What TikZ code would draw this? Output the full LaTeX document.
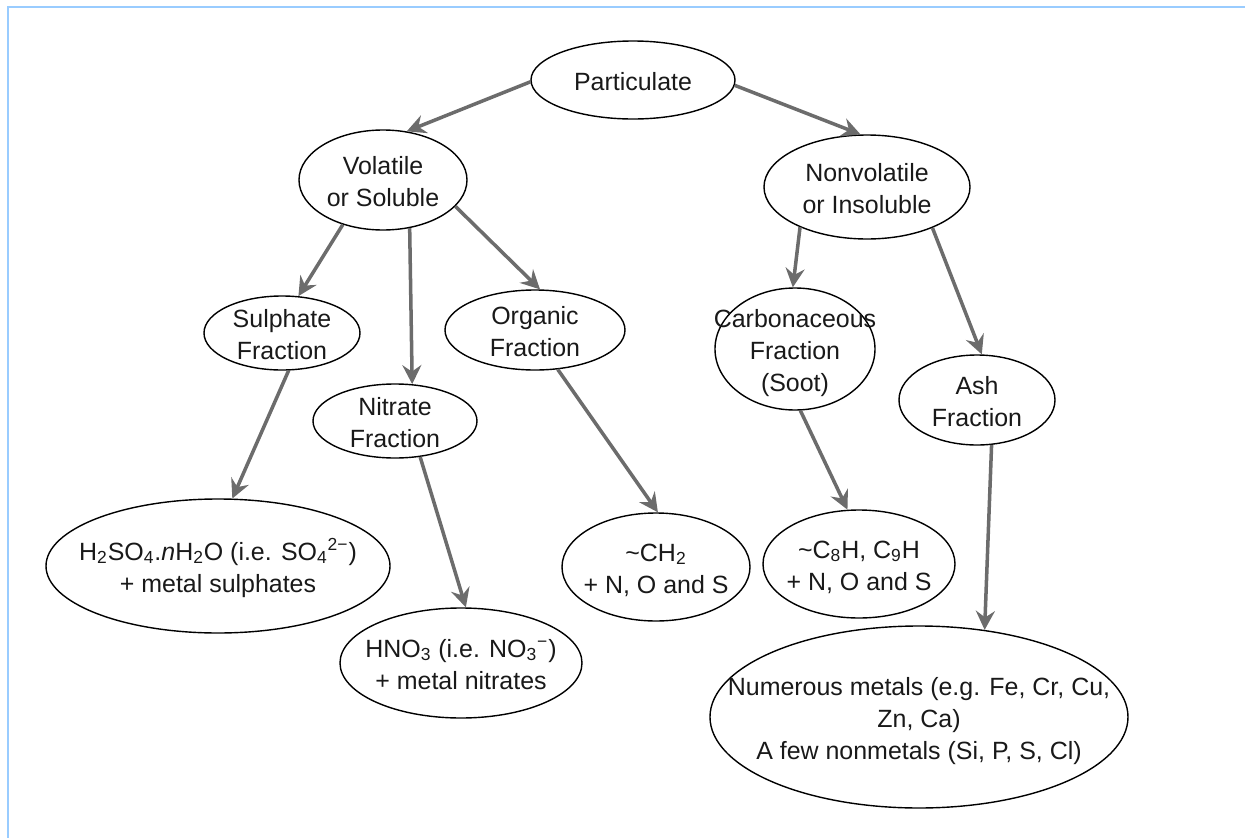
\documentclass[tikz,border=0pt]{standalone}
\usepackage{fontspec}
\setmainfont{Liberation Sans}
\usetikzlibrary{arrows.meta,shapes.geometric}
\definecolor{framebl}{RGB}{153,204,255}
\definecolor{arrgray}{RGB}{108,108,108}
% text that takes no room, so the ellipse keeps its given size
\newcommand{\ctext}[1]{\makebox[0pt]{\smash{\raisebox{-0.4em}{\begin{tabular}{@{}c@{}}#1\end{tabular}}}}}
\tikzset{
  frac/.style={draw,ellipse,inner sep=0pt,text=black!90,line width=0.8pt},
  flow/.style={-{Stealth[length=3.8mm,width=3.8mm,inset=1.3mm]},draw=arrgray,line width=2pt},
}

\begin{document}
\begin{tikzpicture}[x=0.2mm,y=-0.2mm,font=\fontsize{14.2}{18.2}\selectfont]
  \useasboundingbox (0,0) rectangle (1245,838);
  \draw[framebl,line width=1.2pt] (8,838) -- (8,7) -- (1245,7);
  % top levels
  \node[frac,minimum width=40.8mm,minimum height=15.6mm] (part) at (633,80) {\ctext{Particulate}};
  \node[frac,minimum width=33.6mm,minimum height=20mm] (vol) at (383,180) {\ctext{Volatile\\ or Soluble}};
  \node[frac,minimum width=41.2mm,minimum height=20.8mm] (nonvol) at (867,187) {\ctext{Nonvolatile\\ or Insoluble}};
  % fractions
  \node[frac,minimum width=31.2mm,minimum height=14.8mm] (sulph) at (282,333) {\ctext{Sulphate\\ Fraction}};
  \node[frac,minimum width=32.8mm,minimum height=14.8mm] (nitr) at (395,421) {\ctext{Nitrate\\ Fraction}};
  \node[frac,minimum width=36mm,minimum height=16mm] (org) at (535,330) {\ctext{Organic\\ Fraction}};
  \node[frac,minimum width=32mm,minimum height=24.4mm] (carb) at (795,349) {\ctext{Carbonaceous\\ Fraction\\ (Soot)}};
  \node[frac,minimum width=31.2mm,minimum height=18mm] (ash) at (977,400) {\ctext{Ash\\ Fraction}};
  % compositions
  \node[frac,minimum width=68.8mm,minimum height=26.8mm] (hso) at (218,566)
    {\ctext{H\textsubscript{2}SO\textsubscript{4}.\textit{n}H\textsubscript{2}O (i.e. SO\textsubscript{4}\textsuperscript{2−})\\ + metal sulphates}};
  \node[frac,minimum width=48.4mm,minimum height=22mm] (hno) at (461,663)
    {\ctext{HNO\textsubscript{3} (i.e. NO\textsubscript{3}\textsuperscript{−})\\ + metal nitrates}};
  \node[frac,minimum width=37.6mm,minimum height=21.6mm] (chtwo) at (656,567)
    {\ctext{\textasciitilde CH\textsubscript{2}\\ + N, O and S}};
  \node[frac,minimum width=38.4mm,minimum height=21.6mm] (cnine) at (859,564)
    {\ctext{\textasciitilde C\textsubscript{8}H, C\textsubscript{9}H\\ + N, O and S}};
  \node[frac,minimum width=83.6mm,minimum height=36.4mm] (metals) at (919,717)
    {\ctext{Numerous metals (e.g. Fe, Cr, Cu,\\ Zn, Ca)\\ A few nonmetals (Si, P, S, Cl)}};
  % connectors
  \draw[flow] (part.181) -- (vol.64);
  \draw[flow] (part.357) -- (nonvol.97);
  \draw[flow] (vol.228) -- (sulph.66);
  \draw[flow] (vol.299) -- (nitr.65);
  \draw[flow] (vol.340) -- (org.83);
  \draw[flow] (nonvol.211) -- (carb.92);
  \draw[flow] (nonvol.328) -- (ash.84);
  \draw[flow] (sulph.280) -- (hso.78);
  \draw[flow] (nitr.305) -- (hno.85);
  \draw[flow] (org.300) -- (chtwo.88);
  \draw[flow] (carb.275) -- (cnine.102);
  \draw[flow] (ash.288) -- (metals.53);
\end{tikzpicture}
\end{document}
